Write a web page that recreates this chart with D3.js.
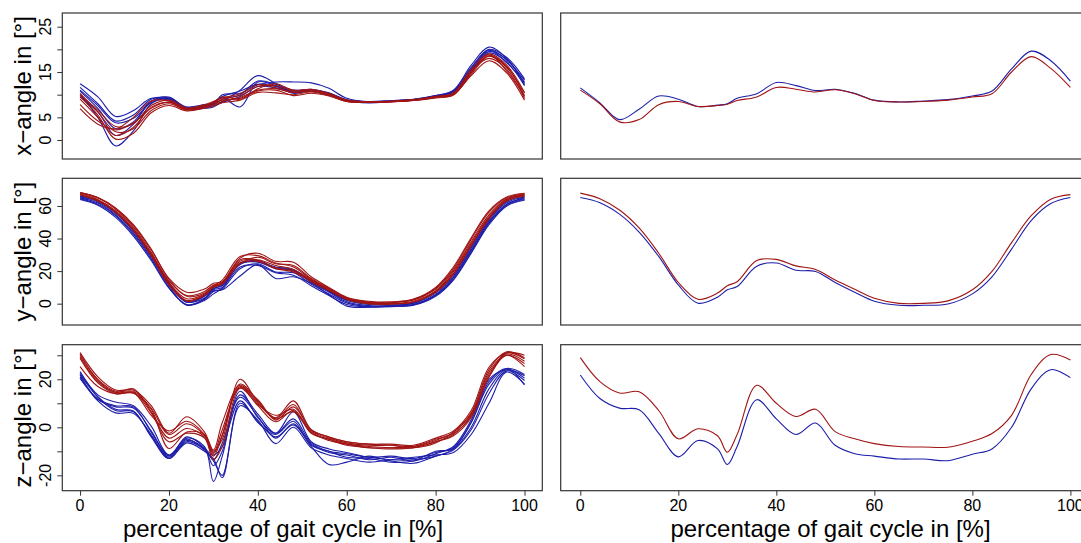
<!DOCTYPE html>
<html>
<head>
<meta charset="utf-8">
<script src="https://cdn.jsdelivr.net/npm/d3@7"></script>
<style>
  body { margin: 0; background: #fff; }
  text { font-family: "Liberation Sans", Arial, sans-serif; fill: #000; }
</style>
</head>
<body>
<svg id="plot"></svg>
<script>
// gait cycle sample points (%)
const pct = [0, 4, 8, 12, 16, 20, 24, 28, 30, 32, 36, 40, 44, 48, 52, 56, 60, 65, 70, 75, 80, 84, 88, 92, 96, 100];

// x-angle: single trials (blue / red) and means
const xAngleBlue = [
  [10, 5, -1.3, 2, 8, 9.2, 6.8, 7, 7.3, 8.5, 11, 14.2, 12.5, 10.5, 10.8, 10, 8.6, 8.2, 8.5, 8.9, 9.8, 11, 16.5, 20.5, 18, 12.5],
  [12.4, 9.5, 5.2, 6.5, 9.2, 8.8, 7.0, 7.6, 8.0, 10.0, 10.3, 12.2, 12.8, 12.8, 12.6, 11.4, 9.2, 8.4, 8.6, 8.9, 9.6, 10.5, 15.8, 20.0, 18.2, 13.5],
  [11.6, 8.0, 4.2, 5.5, 9.0, 9.3, 7.2, 7.5, 8.3, 9.4, 7.3, 12.8, 12.0, 10.3, 11.0, 10.2, 8.7, 8.3, 8.5, 8.8, 9.6, 10.8, 15.2, 19.8, 17.0, 12.8],
  [10.8, 7.0, 2.5, 4.0, 8.6, 9.0, 6.8, 7.4, 7.8, 9.0, 10.0, 13.0, 12.3, 11.0, 11.2, 10.4, 8.9, 8.5, 8.7, 9.0, 9.8, 10.9, 16.0, 19.9, 17.6, 13.2],
  [9.5, 6.2, 1.0, 3.5, 8.5, 9.5, 7.0, 7.2, 7.6, 8.3, 9.6, 11.8, 11.5, 10.6, 10.8, 10.0, 8.6, 8.3, 8.5, 8.8, 9.5, 10.4, 15.0, 19.2, 17.2, 12.0],
  [11.0, 7.6, 3.8, 4.8, 8.2, 9.1, 7.3, 7.8, 8.1, 9.6, 10.8, 12.3, 11.8, 10.8, 11.0, 10.3, 8.8, 8.4, 8.6, 8.9, 9.7, 10.7, 15.5, 19.5, 17.8, 12.2]
];
const xAngleRed = [
  [10.3, 6.2, 1.8, 2.5, 6.5, 8.0, 6.6, 7.2, 7.8, 8.5, 9.4, 11.0, 11.3, 10.5, 10.8, 10.0, 8.6, 8.3, 8.5, 8.8, 9.4, 10.0, 14.5, 18.5, 16.0, 10.3],
  [9.6, 5.5, 0.2, 1.5, 6.0, 7.6, 6.4, 7.0, 7.5, 8.2, 8.8, 10.5, 10.4, 10.0, 10.6, 9.8, 8.5, 8.3, 8.4, 8.7, 9.3, 9.9, 14.8, 18.8, 15.2, 9.8],
  [9.0, 5.0, 1.0, 2.8, 7.2, 8.3, 6.7, 7.4, 7.9, 9.0, 9.8, 11.8, 12.0, 10.8, 11.0, 10.1, 8.7, 8.4, 8.5, 8.8, 9.5, 10.3, 15.2, 18.0, 15.6, 9.2],
  [7.8, 4.2, 2.2, 3.8, 7.0, 8.4, 6.9, 7.6, 8.2, 8.8, 9.2, 10.8, 11.0, 9.8, 10.3, 9.7, 8.5, 8.3, 8.4, 8.7, 9.4, 10.1, 14.2, 17.5, 14.8, 8.8],
  [6.9, 3.5, 2.5, 5.0, 8.6, 8.6, 7.0, 7.8, 8.5, 9.3, 10.2, 12.2, 11.5, 10.5, 10.9, 10.2, 8.8, 8.4, 8.6, 8.9, 9.6, 10.4, 15.6, 19.0, 16.5, 10.5],
  [10.0, 6.6, 3.0, 3.6, 7.6, 8.8, 7.1, 7.7, 8.3, 9.5, 9.0, 11.3, 12.4, 11.0, 11.2, 10.3, 8.8, 8.4, 8.5, 8.8, 9.6, 10.2, 14.9, 18.6, 16.2, 9.6]
];
const xAngleBlueMean = [11.5, 8.2, 4.5, 6.8, 9.7, 9.0, 7.4, 7.7, 8.0, 9.2, 10.2, 12.7, 12.0, 10.9, 11.2, 10.3, 8.8, 8.4, 8.6, 8.9, 9.7, 10.8, 15.7, 19.6, 17.5, 13.0];
const xAngleRedMean = [11.0, 8.0, 4.0, 4.5, 7.8, 8.5, 7.4, 7.6, 7.9, 8.7, 9.5, 11.6, 11.2, 10.6, 11.1, 10.2, 8.7, 8.4, 8.5, 8.8, 9.5, 10.2, 15.0, 18.4, 15.8, 11.6];

// y-angle
const yAngleBlue = [
  [64.0, 60.5, 53.0, 41.5, 26.5, 9.5, -0.5, 2.5, 7.5, 9.0, 21.5, 24.5, 19.5, 19.0, 12.0, 6.0, 0.5, -1.8, -1.5, -0.8, 5.0, 15.0, 31.5, 49.5, 60.5, 64.0],
  [65.5, 62.5, 55.5, 44.5, 29.5, 12.0, 1.0, 3.5, 8.0, 8.5, 17.0, 24.0, 15.5, 16.5, 12.5, 5.5, -1.5, -2.2, -1.0, 0.2, 6.5, 17.0, 34.0, 51.5, 62.0, 65.5],
  [66.0, 63.0, 56.0, 45.0, 30.0, 12.5, 0.8, 4.5, 9.0, 11.5, 24.0, 26.5, 22.0, 20.5, 13.5, 7.5, 2.0, -0.5, -0.8, -0.5, 5.5, 16.0, 32.5, 50.5, 61.0, 65.0],
  [65.0, 61.8, 54.5, 43.5, 28.5, 11.0, -1.0, 3.0, 8.5, 10.0, 24.5, 25.5, 21.5, 20.5, 13.0, 7.0, 1.2, -1.2, -1.5, -1.0, 4.5, 14.5, 31.0, 48.5, 60.0, 63.5],
  [66.2, 63.2, 56.2, 45.2, 30.5, 13.0, 1.5, 5.0, 9.5, 11.0, 25.0, 25.8, 22.5, 21.0, 14.0, 8.0, 2.5, 0.0, -0.2, 0.5, 7.5, 18.0, 35.0, 52.5, 62.8, 66.0],
  [64.5, 61.0, 54.0, 42.5, 27.5, 10.0, -0.8, 2.0, 6.0, 9.5, 22.5, 23.5, 19.0, 17.5, 11.0, 5.0, -0.5, -2.0, -1.8, -0.5, 5.5, 16.0, 33.0, 50.0, 61.0, 64.5]
];
const yAngleRed = [
  [68.0, 65.0, 58.5, 48.0, 33.0, 15.5, 7.0, 9.0, 12.5, 13.5, 28.0, 31.0, 26.0, 25.5, 16.5, 10.0, 4.0, 1.5, 1.0, 2.5, 9.5, 21.5, 39.5, 56.0, 65.0, 67.5],
  [67.5, 64.0, 57.0, 46.0, 30.5, 13.0, 3.0, 6.0, 10.5, 13.0, 26.0, 27.0, 23.5, 21.0, 14.5, 8.5, 3.0, 0.5, 0.2, 1.5, 8.0, 19.5, 37.0, 53.5, 64.0, 66.8],
  [68.2, 65.0, 58.0, 47.0, 31.5, 14.0, 5.0, 7.5, 11.5, 12.5, 24.5, 28.5, 24.5, 23.5, 15.5, 9.5, 3.5, 0.8, 0.6, 2.2, 9.0, 20.5, 38.0, 54.5, 64.5, 67.2],
  [67.0, 63.5, 56.5, 45.5, 30.0, 12.0, 2.0, 5.5, 10.0, 12.0, 27.0, 26.5, 21.5, 19.5, 13.5, 8.0, 2.8, 0.2, 0.0, 1.0, 7.5, 18.5, 36.0, 52.5, 63.0, 66.0],
  [68.3, 65.2, 58.8, 48.5, 33.5, 15.0, 4.5, 6.5, 11.0, 14.5, 29.0, 29.5, 25.0, 22.5, 15.0, 9.0, 3.5, 1.0, 1.0, 2.8, 10.0, 22.5, 40.5, 57.0, 65.5, 67.8],
  [66.8, 63.0, 56.0, 45.0, 29.5, 11.5, 1.5, 5.0, 10.0, 12.5, 25.0, 26.0, 22.0, 20.0, 14.0, 8.5, 2.5, -0.2, -0.3, 1.0, 7.0, 18.0, 35.5, 52.0, 63.5, 66.5]
];
const yAngleBlueMean = [65.2, 62, 55, 44, 29, 11.5, 0.3, 4, 8.5, 10.5, 23, 25, 20.5, 19.8, 13, 7, 1.5, -1, -1, -0.2, 6, 16.5, 33.5, 51, 61.5, 65.2];
const yAngleRedMean = [67.9, 64.5, 57.5, 46.5, 31, 13, 2.7, 6.5, 11, 13.5, 26.5, 27.2, 23.2, 21, 14.5, 8.8, 3.3, 0.2, 0.2, 1.7, 8.5, 19.8, 37.5, 54, 64.2, 67];

// z-angle
const zAngleBlue = [
  [23.2, 13.5, 10.5, 9.0, 0.5, -11.5, -4.5, -8.0, -22.5, -12.0, 13.5, 5.5, -2.5, 3.5, -6.5, -10.0, -11.0, -12.5, -12.0, -13.0, -10.5, -8.5, 2.0, 18.0, 24.5, 22.0],
  [22.5, 12.5, 7.0, 6.5, -3.5, -12.5, -5.0, -9.5, -14.0, -20.0, 10.0, 2.5, -4.0, 1.0, -8.0, -15.5, -14.5, -12.0, -14.0, -15.0, -12.0, -9.5, -1.0, 14.0, 23.5, 19.5],
  [21.8, 11.5, 8.5, 8.0, -1.5, -12.0, -4.0, -8.5, -13.5, -6.5, 12.5, 4.5, -4.5, 1.5, -7.0, -10.5, -11.5, -13.5, -12.5, -14.0, -11.0, -8.0, 3.0, 20.0, 24.0, 21.5],
  [21.0, 11.0, 6.0, 5.8, -3.0, -13.0, -6.5, -10.0, -13.0, -21.0, 9.0, 3.0, -6.8, 0.0, -8.5, -11.5, -13.0, -14.5, -13.5, -12.5, -11.5, -10.5, -3.0, 10.0, 23.0, 18.0],
  [20.4, 11.8, 9.0, 8.5, -2.0, -11.8, -6.0, -9.0, -11.5, -8.0, 11.0, 2.0, -3.0, 2.5, -7.5, -10.0, -12.5, -13.0, -14.5, -14.0, -10.0, -9.0, 0.0, 16.0, 24.0, 20.5],
  [22.0, 12.8, 7.5, 6.8, -4.0, -13.0, -5.5, -9.0, -16.0, -10.0, 15.0, 4.0, -2.5, 6.5, -6.0, -9.0, -10.5, -12.5, -13.5, -13.5, -12.0, -9.0, 2.0, 19.0, 24.5, 17.6]
];
const zAngleRed = [
  [31.1, 21.0, 15.5, 15.5, 9.0, -2.5, 4.4, -2.0, -10.0, -5.0, 20.0, 10.5, 4.0, 11.0, -1.0, -4.0, -6.0, -7.0, -7.0, -7.5, -4.5, -1.5, 7.0, 25.0, 31.0, 30.0],
  [30.1, 20.0, 15.0, 15.0, 8.0, -3.0, 1.5, -3.5, -11.0, -3.0, 18.0, 11.0, 3.7, 9.5, -1.5, -4.5, -6.5, -7.5, -7.5, -8.0, -5.5, -2.0, 6.0, 24.0, 31.5, 29.0],
  [29.4, 19.0, 14.5, 16.0, 6.5, -4.5, -0.5, -4.0, -12.0, -3.5, 17.0, 9.5, 5.0, 7.5, -2.0, -5.5, -7.0, -8.0, -8.5, -8.5, -6.0, -3.0, 5.0, 23.0, 30.5, 27.5],
  [28.7, 18.5, 14.0, 14.5, 6.0, -6.0, -2.5, -4.5, -13.5, -8.0, 16.3, 9.0, 2.3, 7.0, -2.5, -5.0, -7.5, -8.5, -9.0, -8.5, -6.0, -3.5, 4.0, 21.0, 30.0, 26.5],
  [25.3, 17.0, 14.0, 14.2, 7.5, -8.8, -2.0, -3.0, -9.5, 2.0, 17.5, 10.0, 3.5, 6.5, -2.0, -5.0, -7.0, -8.5, -8.5, -8.0, -5.0, -2.5, 4.5, 22.0, 30.0, 25.3],
  [30.5, 19.5, 14.5, 14.5, 5.0, -1.5, 2.5, -3.0, -10.5, -1.0, 16.5, 11.5, 3.0, 8.5, -1.0, -4.0, -6.0, -7.0, -7.5, -8.5, -6.5, -2.0, 5.5, 21.0, 31.0, 28.5]
];
const zAngleBlueMean = [21.8, 12, 8.0, 7.3, -2.5, -12.3, -5.5, -9, -15.5, -8, 11.5, 3.5, -3, 1.8, -7.5, -11, -12, -13.2, -13.2, -13.9, -11.2, -9, 0, 16, 24, 20.7];
const zAngleRedMean = [29, 19, 14.3, 14.8, 7, -4.8, -0.6, -3.5, -10.4, -3, 17.5, 10, 4.5, 7.5, -1.8, -4.8, -6.8, -8, -8.2, -8.3, -5.8, -2.6, 5, 22, 30.3, 28];

// axis ticks and labels
const xTicks = [0, 20, 40, 60, 80, 100];
const rowTitles = ["x\u2212angle in [\u00b0]", "y\u2212angle in [\u00b0]", "z\u2212angle in [\u00b0]"];
const rowTicks = [[0, 5, 10, 15, 20, 25], [0, 20, 40, 60], [-20, -10, 0, 10, 20, 30]];
const rowTickLabels = [[0, 5, 15, 25], [0, 20, 40, 60], [-20, 0, 20]];
const rowDomains = [[-4.19, 28.02], [-13.1, 77.0], [-26.4, 34.4]];

const blueCol = "#1e1eaa";
const redCol = "#a01414";

const W = 1081, H = 543;
const rowsY = [[13, 159], [178.3, 325], [344.7, 490.7]];
const colsX = [[62.3, 542.3], [560.7, 1090]];

const svg = d3.select("#plot").attr("width", W).attr("height", H);

const rows = [
  { blue: xAngleBlue, red: xAngleRed, bm: xAngleBlueMean, rm: xAngleRedMean },
  { blue: yAngleBlue, red: yAngleRed, bm: yAngleBlueMean, rm: yAngleRedMean },
  { blue: zAngleBlue, red: zAngleRed, bm: zAngleBlueMean, rm: zAngleRedMean }
];

rows.forEach(function(row, r) {
  const y = d3.scaleLinear().domain(rowDomains[r]).range([rowsY[r][1], rowsY[r][0]]);

  colsX.forEach(function(cx, c) {
    const x = d3.scaleLinear().domain([-4, 104]).range(cx);
    const g = svg.append("g");

    const line = d3.line()
        .x((d, i) => x(pct[i]))
        .y(d => y(d))
        .curve(d3.curveCatmullRom.alpha(0.5));

    // left column: single trials, right column: means
    const blues = c === 0 ? row.blue : [row.bm];
    const reds = c === 0 ? row.red : [row.rm];

    g.selectAll(".blue")
      .data(blues)
      .enter().append("path")
      .attr("d", line)
      .attr("fill", "none")
      .attr("stroke", blueCol)
      .attr("stroke-width", 1.1);

    g.selectAll(".red")
      .data(reds)
      .enter().append("path")
      .attr("d", line)
      .attr("fill", "none")
      .attr("stroke", redCol)
      .attr("stroke-width", 1.1);

    // panel box
    g.append("rect")
      .attr("x", cx[0]).attr("y", rowsY[r][0])
      .attr("width", cx[1] - cx[0]).attr("height", rowsY[r][1] - rowsY[r][0])
      .attr("fill", "none")
      .attr("stroke", "#333")
      .attr("stroke-width", 1.2);

    // y axis on the left column
    if (c === 0) {
      const ya = g.append("g")
          .attr("transform", "translate(" + cx[0] + ",0)")
          .call(d3.axisLeft(y).tickValues(rowTicks[r]).tickSize(5).tickFormat(""));
      ya.select(".domain").remove();
      ya.selectAll("line").attr("stroke", "#333");

      g.selectAll(".ylab")
        .data(rowTickLabels[r])
        .enter().append("text")
        .attr("transform", d => "translate(51," + y(d) + ") rotate(-90)")
        .attr("text-anchor", "middle")
        .style("font-size", "16px")
        .text(d => d);

      svg.append("text")
        .attr("transform", "translate(31," + ((rowsY[r][0] + rowsY[r][1]) / 2) + ") rotate(-90)")
        .attr("text-anchor", "middle")
        .style("font-size", "24px")
        .text(rowTitles[r]);
    }

    // x axis on bottom row
    if (r === 2) {
      const xa = g.append("g")
          .attr("transform", "translate(0," + rowsY[r][1] + ")")
          .call(d3.axisBottom(x).tickValues(xTicks).tickSize(5).tickFormat(""));
      xa.select(".domain").remove();
      xa.selectAll("line").attr("stroke", "#333");

      g.selectAll(".xlab")
        .data(xTicks)
        .enter().append("text")
        .attr("x", d => x(d))
        .attr("y", 511)
        .attr("text-anchor", "middle")
        .style("font-size", "16px")
        .text(d => d);

      svg.append("text")
        .attr("x", c === 0 ? 283 : 830.5)
        .attr("y", 537)
        .attr("text-anchor", "middle")
        .style("font-size", "24px")
        .text("percentage of gait cycle in [%]");
    }
  });
});
</script>
</body>
</html>
